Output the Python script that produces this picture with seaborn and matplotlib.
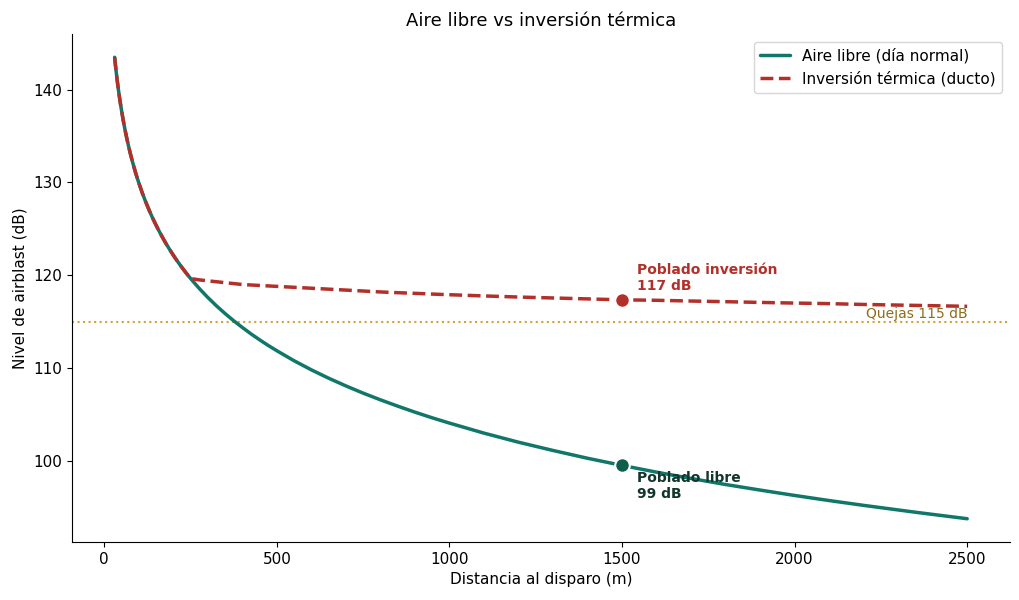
import matplotlib
matplotlib.use("Agg")
import matplotlib.pyplot as plt
import seaborn as sns
import pandas as pd

distance = [30, 32, 35, 37, 40, 42, 45, 47, 50, 55, 60, 65, 70, 75, 80, 85, 90, 95, 100,
            110, 120, 130, 140, 150, 160, 170, 180, 190, 200, 210, 220, 230, 240, 250,
            275, 300, 325, 350, 375, 400, 425, 450, 475, 500, 550, 600, 650, 700, 750,
            800, 850, 900, 950, 1000, 1100, 1200, 1300, 1400, 1500, 1600, 1700, 1800,
            1900, 2000, 2100, 2200, 2350, 2500]
free_air = [143.5, 142.77, 141.77, 141.14, 140.26, 139.72, 138.94, 138.45, 137.76, 136.68,
            135.70, 134.80, 133.97, 133.19, 132.47, 131.79, 131.14, 130.53, 129.96,
            128.88, 127.91, 127.01, 126.17, 125.40, 124.67, 123.99, 123.34, 122.74, 122.16,
            121.61, 121.09, 120.59, 120.11, 119.65,
            118.58, 117.60, 116.70, 115.87, 115.09, 114.37, 113.68, 113.04, 112.43, 111.86,
            110.78, 109.80, 108.90, 108.07, 107.29,
            106.57, 105.89, 105.24, 104.63, 104.06, 102.98, 102.00, 101.11, 100.27, 99.50,
            98.77, 98.09, 97.44, 96.84, 96.26, 95.71, 95.19, 94.45, 93.75]
inversion = [143.5, 142.77, 141.77, 141.14, 140.26, 139.72, 138.94, 138.45, 137.76, 136.68,
             135.70, 134.80, 133.97, 133.19, 132.47, 131.79, 131.14, 130.53, 129.96,
             128.88, 127.91, 127.01, 126.17, 125.40, 124.67, 123.99, 123.34, 122.74, 122.16,
             121.61, 121.09, 120.59, 120.11, 119.65,
             119.5, 119.4, 119.3, 119.2, 119.1, 119.0, 118.95, 118.9, 118.85, 118.8,
             118.7, 118.6, 118.5, 118.4, 118.3,
             118.2, 118.12, 118.05, 117.97, 117.9, 117.77, 117.65, 117.55, 117.45, 117.35,
             117.3, 117.22, 117.15, 117.07, 117.0, 116.94, 116.85, 116.75, 116.65]
series_names = ["Aire libre (día normal)", "Inversión térmica (ducto)"]
town_distance = 1500
town_free = 99.5
town_inv = 117.35
complaint_level = 115

sns.set_style("ticks")
plt.rcParams['font.family'] = ['DejaVu Sans']
plt.rcParams.update({
    "text.color": "black", "axes.labelcolor": "black", "xtick.color": "black",
    "ytick.color": "black", "axes.edgecolor": "black", "axes.titlecolor": "black",
    "xtick.major.size": 3.5, "ytick.major.size": 3.5,
    "xtick.major.width": 0.8, "ytick.major.width": 0.8, "axes.linewidth": 0.8,
})

df = pd.DataFrame({
    "dist": distance * 2,
    "db": free_air + inversion,
    "serie": [series_names[0]] * len(distance) + [series_names[1]] * len(distance),
})

teal = "#10776a"
red = "#b3302a"

fig, ax = plt.subplots(figsize=(10.2, 6), dpi=100)
sns.lineplot(data=df[df.serie == series_names[0]], x="dist", y="db", ax=ax,
             color=teal, lw=2.5, label=series_names[0])
sns.lineplot(data=df[df.serie == series_names[1]], x="dist", y="db", ax=ax,
             color=red, lw=2.5, ls="--", label=series_names[1])

ax.axhline(complaint_level, color="#d4a23c", ls=":", lw=1.5, zorder=1)
ax.text(2500, complaint_level + 0.05, f"Quejas {complaint_level} dB", ha="right", va="bottom",
        color="#8c6d1f", fontsize=10)

ax.scatter([town_distance], [town_inv], s=110, color=red, edgecolor="white", lw=1.5, zorder=5)
ax.scatter([town_distance], [town_free], s=110, color="#0d5e4a", edgecolor="white", lw=1.5, zorder=5)
ax.annotate("Poblado inversión\n117 dB", (town_distance, town_inv), xytext=(11, 5),
            textcoords="offset points", ha="left", va="bottom", color=red,
            fontweight="bold", fontsize=10)
ax.annotate("Poblado libre\n99 dB", (town_distance, town_free), xytext=(11, -4),
            textcoords="offset points", ha="left", va="top", color="#12352c",
            fontweight="bold", fontsize=10)

ax.set_title("Aire libre vs inversión térmica", fontsize=13)
ax.set_xlabel("Distancia al disparo (m)", fontsize=11)
ax.set_ylabel("Nivel de airblast (dB)", fontsize=11)
ax.tick_params(labelsize=11)
ax.legend(loc="upper right", fontsize=11, frameon=True)
sns.despine(ax=ax)

fig.subplots_adjust(left=0.0706, right=0.99, top=0.943, bottom=0.097)
fig.savefig("out.png", dpi=100)
